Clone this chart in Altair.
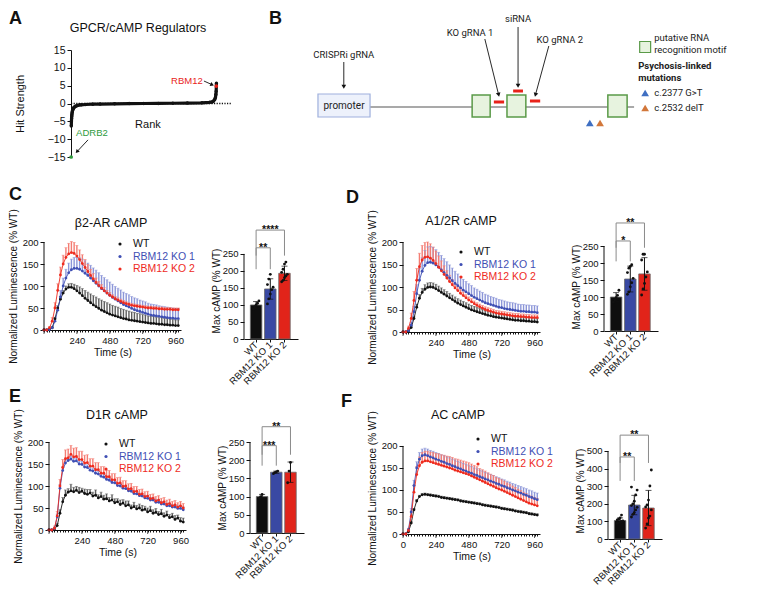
import math
import altair as alt
import pandas as pd

FONT = "Liberation Sans"
DFONT = "Roboto"
INK = "#111111"

GROUPS = ["WT", "RBM12 KO 1", "RBM12 KO 2"]
LINE_COLORS = ["#111111", "#3F4FB4", "#EE2B1E"]
ERR_COLORS = ["#5E5E5E", "#8C96D8", "#F47C72"]
BAR_COLORS = ["#0E0E0E", "#3949A3", "#E1241A"]

# ---------------- Panel A : ranked hit strengths ----------------
A_RANK = [2, 3, 4, 5, 6, 8, 10, 13, 16, 20, 25, 30, 40, 50, 70, 100, 150, 200, 300, 400,
          500, 600, 700, 800, 900, 950, 970, 980, 988, 993, 996, 998, 1000]
A_HIT = [-6.3, -5.0, -4.2, -3.6, -3.1, -2.5, -2.1, -1.7, -1.4, -1.15, -0.95, -0.8, -0.62, -0.5,
         -0.38, -0.28, -0.2, -0.15, -0.08, -0.03, 0.0, 0.03, 0.07, 0.12, 0.2, 0.3, 0.45, 0.7,
         1.1, 1.7, 2.5, 3.4, 5.7]
A_HITS = ["ADRB2", "RBM12"]
A_HIT_RANK = [1, 999]
A_HIT_VALUE = [-15.0, 4.9]
A_HIT_COLORS = ["#2E9B3C", "#E8231B"]

# ---------------- time courses (every 20 s) ----------------
TIME = [0, 20, 40, 60, 80, 100, 120, 140, 160, 180, 200, 220, 240, 260, 280, 300, 320, 340,
        360, 380, 400, 420, 440, 460, 480, 500, 520, 540, 560, 580, 600, 620, 640, 660, 680,
        700, 720, 740, 760, 780, 800, 820, 840, 860, 880, 900, 920, 940, 960, 980]
TIME_LABELS = [0, 240, 480, 720, 960]

C_WT = [0, 0, 1, 5, 25, 50, 70, 84, 93, 97, 97, 94, 89, 84, 78, 72, 67, 62, 57, 53, 49, 45, 42,
        39, 36, 34, 32, 30, 28, 26, 25, 23, 22, 21, 20, 19, 18, 17, 16, 15, 15, 14, 13, 13, 12,
        12, 11, 11, 10, 10]
C_WT_ERR = [0, 0, 1, 2, 4, 5, 6, 6, 7, 8, 9, 10, 12, 14, 16, 18, 19, 20, 21, 22, 22, 23, 23, 23,
            23, 22, 22, 22, 21, 21, 20, 20, 19, 19, 18, 18, 17, 17, 16, 16, 16, 15, 15, 15, 14,
            14, 14, 13, 13, 13]
C_KO1 = [0, 0, 1, 5, 20, 45, 75, 100, 118, 130, 137, 140, 140, 138, 134, 129, 124, 118, 112,
         106, 100, 94, 89, 84, 79, 74, 70, 66, 62, 58, 55, 52, 49, 46, 44, 42, 40, 38, 36, 34,
         33, 32, 31, 30, 29, 28, 27, 27, 26, 26]
C_KO1_ERR = [0, 0, 1, 3, 6, 10, 15, 18, 20, 22, 24, 25, 25, 26, 27, 28, 28, 29, 29, 30, 30, 30,
             30, 30, 30, 30, 29, 29, 29, 28, 28, 28, 27, 27, 27, 26, 26, 26, 25, 25, 25, 25, 24,
             24, 24, 24, 24, 23, 23, 23]
C_KO2 = [0, 0, 5, 20, 50, 90, 125, 150, 165, 173, 176, 174, 168, 160, 151, 142, 133, 124, 116,
         108, 101, 95, 89, 84, 79, 75, 71, 68, 65, 62, 60, 58, 56, 55, 54, 53, 52, 51, 50, 50,
         49, 49, 48, 48, 47, 47, 47, 46, 46, 46]
C_KO2_ERR = [0, 0, 3, 8, 12, 15, 18, 20, 22, 24, 25, 25, 24, 22, 20, 18, 16, 14, 12, 10, 9, 8,
             7, 6, 6, 5, 5, 5, 5, 5, 4, 4, 4, 4, 4, 4, 4, 4, 4, 4, 4, 4, 4, 4, 4, 4, 4, 4, 4, 4]

D_WT = [0, 0, 2, 10, 30, 55, 75, 88, 95, 99, 100, 99, 96, 92, 88, 84, 80, 76, 72, 68, 64, 61,
        58, 55, 52, 49, 47, 45, 43, 41, 39, 37, 36, 34, 33, 32, 31, 30, 29, 28, 27, 26, 26, 25,
        25, 24, 24, 23, 23, 22]
D_WT_ERR = [0, 0, 1, 3, 5, 7, 8, 9, 10, 10, 10, 10, 10, 10, 10, 10, 10, 10, 10, 10, 10, 10, 10,
            10, 10, 10, 10, 10, 9, 9, 9, 9, 9, 9, 9, 9, 9, 9, 9, 9, 8, 8, 8, 8, 8, 8, 8, 8, 8, 8]
D_KO1 = [0, 0, 3, 15, 45, 85, 115, 135, 148, 154, 155, 153, 149, 144, 138, 132, 126, 120, 114,
         108, 103, 98, 93, 89, 85, 81, 77, 74, 71, 68, 65, 63, 61, 59, 57, 55, 54, 52, 51, 50,
         49, 48, 47, 46, 46, 45, 45, 44, 44, 43]
D_KO1_ERR = [0, 0, 2, 6, 12, 20, 26, 30, 33, 35, 35, 35, 34, 33, 32, 31, 30, 29, 28, 27, 26, 25,
             24, 23, 22, 22, 21, 21, 20, 20, 19, 19, 18, 18, 18, 17, 17, 17, 16, 16, 16, 16, 15,
             15, 15, 15, 15, 15, 15, 15]
D_KO2 = [0, 0, 8, 30, 70, 115, 145, 160, 166, 167, 164, 159, 152, 144, 136, 128, 120, 112, 105,
         98, 92, 86, 81, 76, 71, 67, 63, 59, 56, 53, 50, 48, 46, 44, 42, 41, 40, 39, 38, 37, 36,
         35, 35, 34, 34, 33, 33, 32, 32, 32]
D_KO2_ERR = [0, 0, 5, 12, 20, 26, 30, 32, 33, 33, 32, 30, 28, 25, 22, 19, 16, 14, 12, 10, 9, 8,
             8, 7, 7, 7, 6, 6, 6, 6, 6, 6, 6, 6, 6, 6, 6, 6, 6, 6, 6, 6, 6, 6, 6, 6, 6, 6, 6, 6]

E_WT = [0, 0, 2, 10, 38, 64, 79, 86, 89, 87, 90, 85, 88, 83, 81, 84, 77, 79, 73, 76, 70, 71, 66,
        68, 62, 64, 58, 61, 55, 57, 50, 53, 48, 50, 45, 47, 41, 44, 38, 40, 35, 37, 31, 34, 28,
        30, 24, 27, 20, 18]
E_WT_ERR = [0, 0, 2, 5, 8, 10, 12, 8, 15, 10, 9, 12, 7, 10, 11, 8, 9, 12, 7, 10, 9, 11, 8, 12,
            9, 7, 10, 8, 11, 9, 7, 10, 8, 9, 11, 7, 9, 10, 8, 9, 7, 10, 8, 9, 7, 8, 9, 7, 8, 9]
E_KO1 = [0, 0, 3, 30, 95, 135, 152, 158, 161, 156, 157, 150, 149, 143, 142, 136, 134, 129, 127,
         122, 120, 115, 113, 108, 107, 101, 100, 95, 94, 89, 88, 83, 82, 78, 77, 73, 72, 68, 68,
         63, 63, 59, 59, 55, 55, 52, 52, 49, 49, 46]
E_KO1_ERR = [0, 0, 3, 6, 8, 8, 8, 7, 7, 7, 7, 7, 7, 6, 6, 6, 6, 6, 6, 6, 6, 6, 6, 6, 6, 6, 6, 6,
             6, 6, 6, 6, 6, 6, 6, 6, 6, 6, 6, 6, 6, 6, 6, 6, 6, 6, 6, 6, 6, 6]
E_KO2 = [0, 0, 4, 32, 100, 142, 162, 164, 172, 166, 167, 160, 160, 152, 153, 145, 145, 137, 137,
         129, 129, 121, 121, 114, 114, 106, 107, 99, 100, 93, 94, 87, 88, 81, 82, 76, 77, 71, 72,
         66, 68, 62, 64, 58, 60, 55, 57, 52, 55, 50]
E_KO2_ERR = [0, 0, 5, 10, 15, 18, 20, 20, 20, 20, 20, 19, 19, 18, 18, 17, 17, 16, 16, 15, 15, 15,
             14, 14, 14, 13, 13, 13, 12, 12, 12, 12, 11, 11, 11, 11, 11, 10, 10, 10, 10, 10, 10,
             10, 10, 10, 10, 10, 10, 10]

F_WT = [0, 0, 5, 25, 55, 75, 85, 89, 90, 89, 88, 87, 86, 85, 83, 82, 81, 80, 79, 78, 77, 75, 74,
        73, 72, 71, 70, 69, 68, 66, 65, 64, 63, 62, 61, 60, 58, 57, 56, 55, 54, 52, 51, 50, 49,
        48, 46, 45, 44, 43]
F_WT_ERR = [0, 0, 2, 3, 3, 3, 3, 3, 3, 3, 3, 3, 3, 3, 3, 3, 3, 3, 3, 3, 3, 3, 3, 3, 3, 3, 3, 3,
            3, 3, 3, 3, 3, 3, 3, 3, 3, 3, 3, 3, 3, 3, 3, 3, 3, 3, 3, 3, 3, 3]
F_KO1 = [0, 0, 10, 50, 110, 150, 170, 178, 180, 178, 175, 173, 170, 168, 165, 163, 160, 158,
         155, 153, 150, 148, 145, 143, 140, 138, 135, 133, 130, 128, 125, 123, 120, 118, 115,
         113, 110, 108, 105, 103, 100, 98, 95, 93, 90, 88, 85, 83, 80, 78]
F_KO1_ERR = [0, 0, 3, 8, 12, 14, 15, 15, 15, 15, 15, 15, 15, 15, 15, 15, 15, 15, 15, 15, 15, 15,
             15, 15, 15, 15, 15, 15, 15, 15, 15, 15, 15, 15, 15, 15, 15, 15, 15, 15, 15, 15, 15,
             15, 15, 15, 15, 15, 15, 15]
F_KO2 = [0, 0, 8, 40, 95, 135, 155, 163, 166, 166, 164, 162, 160, 158, 156, 154, 152, 150, 148,
         145, 143, 141, 139, 137, 135, 132, 129, 126, 123, 120, 117, 114, 111, 108, 105, 102,
         100, 97, 94, 91, 88, 85, 82, 79, 76, 73, 70, 68, 66, 64]
F_KO2_ERR = [0, 0, 4, 10, 15, 18, 20, 22, 22, 22, 22, 23, 23, 24, 24, 25, 25, 26, 26, 26, 27, 27,
             27, 27, 27, 27, 27, 27, 26, 26, 26, 25, 25, 25, 24, 24, 23, 23, 22, 22, 21, 21, 20,
             20, 19, 19, 18, 18, 17, 17]

# ---------------- max cAMP bars ----------------
C_BAR_MEAN = [100, 147, 193]
C_BAR_SD = [10, 30, 21]
C_PTS = [[88, 95, 100, 105, 112], [103, 118, 132, 145, 152, 160, 176, 190],
         [168, 172, 180, 185, 190, 196, 205, 220, 226]]
C_SIG = [(0, 1, 268, 205, "**"), (0, 2, 320, 245, "****")]

D_BAR_MEAN = [100, 153, 168]
D_BAR_SD = [13, 38, 48]
D_PTS = [[85, 92, 98, 105, 120], [108, 115, 130, 142, 155, 172, 185, 190, 195],
         [106, 124, 140, 159, 174, 209, 226, 226]]
D_SIG = [(0, 1, 265, 205, "*"), (0, 2, 318, 245, "**")]

E_BAR_MEAN = [100, 167, 167]
E_BAR_SD = [6, 3, 28]
E_PTS = [[95, 100, 106], [163, 166, 168, 170], [138, 170, 194]]
E_SIG = [(0, 1, 240, 185, "***"), (0, 2, 292, 215, "**")]

F_BAR_MEAN = [105, 193, 176]
F_BAR_SD = [15, 55, 100]
F_PTS = [[88, 92, 95, 100, 103, 108, 112, 120, 136],
         [125, 140, 150, 165, 180, 190, 200, 215, 250, 278, 295],
         [62, 85, 119, 130, 165, 182, 193, 221, 301, 392]]
F_SIG = [(0, 1, 466, 330, "**"), (0, 2, 590, 432, "**")]

# ---------------- Panel B : gene schematic (diagram units) ----------------
B_PROMOTER = [1.7, 14.4, -10, 13]
B_GENE_LINE = [14.4, 78.8]
B_RRM_X1 = [39.3, 47.8, 72.4]
B_RRM_X2 = [43.7, 52.4, 77.1]
B_RRM_Y = [-10, 12]
B_TARGETS = ["KO gRNA 1", "siRNA", "KO gRNA 2"]
B_TARGET_X1 = [44.6, 49.3, 53.4]
B_TARGET_X2 = [47.1, 51.7, 55.9]
B_TARGET_Y = [5, 16, 6]
B_LABEL_X = [8.0, 38.8, 50.5, 60.7]
B_LABEL_Y = [52, 74, 88, 67]
B_LABELS = ["CRISPRi gRNA"] + B_TARGETS
B_ARROW_X1 = [8.0, 42.4, 50.5, 58.0]
B_ARROW_Y1 = [45, 68, 80, 61]
B_ARROW_X2 = [8.0, 45.9, 50.5, 54.6]
B_ARROW_Y2 = [18, 10, 19, 10]
B_MUTATIONS = ["c.2377 G>T", "c.2532 delT"]
B_MUT_X = [68.0, 70.5]
B_MUT_Y = [-16, -16]
B_MUT_COLORS = ["#3F6FC2", "#D2773A"]
B_LEG_X = [81.5, 83.7, 79.8]
B_LEG_Y_MOTIF = [69, 57]
B_LEG_Y_TITLE = [41, 29]
B_LEG_Y_MUT = [14, -1]


def one_row():
    return pd.DataFrame({"k": [0]})


def text_at(text, x, y, size, color=INK, weight="normal", align="left", baseline="middle", font=FONT):
    return alt.Chart(pd.DataFrame({"txt": [text]})).mark_text(
        font=font, fontSize=size, color=color, fontWeight=weight, align=align, baseline=baseline
    ).encode(x=alt.value(x), y=alt.value(y), text="txt:N")


def spacer(w):
    return alt.Chart(one_row()).mark_point(opacity=0).encode(
        x=alt.value(0), y=alt.value(0)).properties(width=w, height=1)


def arrow_layers(x1s, y1s, x2s, y2s, X, Y, kx, ky, size=22, head=2.3):
    rows = []
    for x1, y1, x2, y2 in zip(x1s, y1s, x2s, y2s):
        dxp, dyp = (x2 - x1) * kx, (y2 - y1) * ky
        ln = math.hypot(dxp, dyp)
        ux, uy = dxp / ln, dyp / ln
        rows.append({"x1": x1, "y1": y1, "hx": x2 - ux * head / kx, "hy": y2 - uy * head / ky,
                     "ang": math.degrees(math.atan2(dxp, dyp)) % 360})
    df = pd.DataFrame(rows)
    rule = alt.Chart(df).mark_rule(color=INK, strokeWidth=0.9).encode(
        x=X("x1:Q"), y=Y("y1:Q"), x2="hx:Q", y2="hy:Q")
    tip = alt.Chart(df).mark_point(shape="triangle-up", filled=True, size=size, color=INK,
                                   opacity=1).encode(
        x=X("hx:Q"), y=Y("hy:Q"), angle=alt.Angle("ang:Q", scale=None))
    return [rule, tip]


# ---------------- Panel A ----------------
def panel_a():
    w, h = 160, 107
    xs = alt.Scale(domain=[0, 1100], nice=False, zero=False)
    ys = alt.Scale(domain=[-15, 15], nice=False, zero=False)
    yax = alt.Axis(values=[-15, -10, -5, 0, 5, 10, 15], title="Hit Strength", titleFontSize=11,
                   titleFontWeight="normal", labelFontSize=10.5, tickSize=4, grid=False,
                   titlePadding=22, labelPadding=2)
    X = lambda f: alt.X(f, scale=xs, axis=None)
    Y = lambda f: alt.Y(f, scale=ys, axis=yax)
    curve_df = pd.DataFrame({"r": A_RANK, "h": A_HIT})
    hits_df = pd.DataFrame({"r": A_HIT_RANK, "h": A_HIT_VALUE, "g": A_HITS, "hc": A_HIT_COLORS,
                            "lr": [144, 797], "lh": [-8.3, 6.3]})
    zero_df = pd.DataFrame({"r1": [0], "r2": [1100], "h": [0]})
    zero = alt.Chart(zero_df).mark_rule(color=INK, strokeWidth=1.3, strokeDash=[1.2, 1.4]).encode(
        x=X("r1:Q"), x2="r2:Q", y=Y("h:Q"))
    line = alt.Chart(curve_df).mark_line(color=INK, strokeWidth=3.2).encode(x=X("r:Q"), y=Y("h:Q"))
    dots = alt.Chart(curve_df).mark_circle(color=INK, size=12, opacity=1).encode(x=X("r:Q"), y=Y("h:Q"))
    hits = alt.Chart(hits_df).mark_circle(size=14, opacity=1).encode(
        x=X("r:Q"), y=Y("h:Q"), color=alt.Color("hc:N", scale=None))
    labs = alt.Chart(hits_df).mark_text(font=FONT, fontSize=9.5).encode(
        x=X("lr:Q"), y=Y("lh:Q"), text="g:N", color=alt.Color("hc:N", scale=None))
    rank = alt.Chart(pd.DataFrame({"r": [529], "h": [-6.0], "t": ["Rank"]})).mark_text(
        font=FONT, fontSize=11, color=INK).encode(x=X("r:Q"), y=Y("h:Q"), text="t:N")
    arrows = arrow_layers([117, 914], [-10.2, 6.3], [30, 985], [-14.0, 5.0], X, Y,
                          w / 1100, h / 30, size=18)
    title = text_at("GPCR/cAMP Regulators", 67, -22, 12.5, align="center")
    letter = text_at("A", -62, -40, 18, weight="bold", baseline="top")
    return alt.layer(zero, line, dots, hits, labs, rank, *arrows, title, letter).properties(
        width=w, height=h)


# ---------------- Panel B ----------------
def panel_b():
    w, h = 410, 107
    xs = alt.Scale(domain=[0, 100], nice=False, zero=False)
    ys = alt.Scale(domain=[-50, 57], nice=False, zero=False)
    X = lambda f: alt.X(f, scale=xs, axis=None)
    Y = lambda f: alt.Y(f, scale=ys, axis=None)
    layers = []
    gl = pd.DataFrame({"x1": [B_GENE_LINE[0]], "x2": [B_GENE_LINE[1]], "y": [0]})
    layers.append(alt.Chart(gl).mark_rule(color="#555555", strokeWidth=1.1).encode(
        x=X("x1:Q"), x2="x2:Q", y=Y("y:Q")))
    pr = pd.DataFrame({"x1": [B_PROMOTER[0]], "x2": [B_PROMOTER[1]], "y1": [B_PROMOTER[2]],
                       "y2": [B_PROMOTER[3]], "t": ["promoter"],
                       "xc": [(B_PROMOTER[0] + B_PROMOTER[1]) / 2],
                       "yc": [(B_PROMOTER[2] + B_PROMOTER[3]) / 2]})
    layers.append(alt.Chart(pr).mark_rect(fill="#EDF1FB", stroke="#9FB0DD", strokeWidth=1.2).encode(
        x=X("x1:Q"), x2="x2:Q", y=Y("y1:Q"), y2="y2:Q"))
    layers.append(alt.Chart(pr).mark_text(font=DFONT, fontSize=10, color="#222222").encode(
        x=X("xc:Q"), y=Y("yc:Q"), text="t:N"))
    rrm = pd.DataFrame({"x1": B_RRM_X1, "x2": B_RRM_X2, "y1": [B_RRM_Y[0]] * 3,
                        "y2": [B_RRM_Y[1]] * 3})
    layers.append(alt.Chart(rrm).mark_rect(fill="#E7F3DF", stroke="#5A9A48", strokeWidth=1.5).encode(
        x=X("x1:Q"), x2="x2:Q", y=Y("y1:Q"), y2="y2:Q"))
    tg = pd.DataFrame({"x1": B_TARGET_X1, "x2": B_TARGET_X2, "y": B_TARGET_Y})
    layers.append(alt.Chart(tg).mark_rule(color="#E8231B", strokeWidth=3).encode(
        x=X("x1:Q"), x2="x2:Q", y=Y("y:Q")))
    lb = pd.DataFrame({"x": B_LABEL_X, "y": B_LABEL_Y, "t": B_LABELS})
    layers.append(alt.Chart(lb).mark_text(font=DFONT, fontSize=9.5, color="#222222").encode(
        x=X("x:Q"), y=Y("y:Q"), text="t:N"))
    layers += arrow_layers(B_ARROW_X1, B_ARROW_Y1, B_ARROW_X2, B_ARROW_Y2, X, Y, w / 100, h / 107)
    mu = pd.DataFrame({"x": B_MUT_X, "y": B_MUT_Y, "m": B_MUTATIONS, "mc": B_MUT_COLORS,
                       "lx": [B_LEG_X[0]] * 2, "tx": [B_LEG_X[1]] * 2, "ly": B_LEG_Y_MUT})
    layers.append(alt.Chart(mu).mark_point(shape="triangle-up", filled=True, size=60, opacity=1).encode(
        x=X("x:Q"), y=Y("y:Q"), color=alt.Color("mc:N", scale=None)))
    sq = pd.DataFrame({"x": [B_LEG_X[0]], "y": [(B_LEG_Y_MOTIF[0] + B_LEG_Y_MOTIF[1]) / 2 - 3]})
    layers.append(alt.Chart(sq).mark_square(size=120, fill="#E7F3DF", stroke="#5A9A48",
                                            strokeWidth=1.2, opacity=1).encode(x=X("x:Q"), y=Y("y:Q")))
    mt = pd.DataFrame({"x": [B_LEG_X[1]] * 2, "y": B_LEG_Y_MOTIF,
                       "t": ["putative RNA", "recognition motif"]})
    layers.append(alt.Chart(mt).mark_text(font=DFONT, fontSize=9.5, color="#222222", align="left").encode(
        x=X("x:Q"), y=Y("y:Q"), text="t:N"))
    tt = pd.DataFrame({"x": [B_LEG_X[2]] * 2, "y": B_LEG_Y_TITLE, "t": ["Psychosis-linked", "mutations"]})
    layers.append(alt.Chart(tt).mark_text(font=DFONT, fontSize=9.5, fontWeight="bold", color="#222222",
                                          align="left").encode(x=X("x:Q"), y=Y("y:Q"), text="t:N"))
    layers.append(alt.Chart(mu).mark_point(shape="triangle-up", filled=True, size=60, opacity=1).encode(
        x=X("lx:Q"), y=Y("ly:Q"), color=alt.Color("mc:N", scale=None)))
    layers.append(alt.Chart(mu).mark_text(font=DFONT, fontSize=9.5, color="#222222", align="left").encode(
        x=X("tx:Q"), y=Y("ly:Q"), text="m:N"))
    layers.append(text_at("B", -42, -40, 18, weight="bold", baseline="top"))
    return alt.layer(*layers).properties(width=w, height=h)


# ---------------- time-course panels ----------------
def line_panel(means, errs, ytop, height, title, title_xy, letter, letter_xy, leg_xy, show_zero):
    rows = []
    for g, lc, ec, m, e in zip(GROUPS, LINE_COLORS, ERR_COLORS, means, errs):
        for t, mv, ev in zip(TIME, m, e):
            rows.append({"t": t, "m": mv, "hi": mv + ev, "g": g, "lc": lc, "ec": ec})
    df = pd.DataFrame(rows)
    cond = "datum.value % 240 === 0" + ("" if show_zero else " && datum.value > 0")
    xax = alt.Axis(values=TIME, labelExpr=cond + " ? datum.label : ''", labelOverlap=False,
                   labelFlush=False, tickSize=2,
                   title="Time (s)", titleFontSize=10.5, titleFontWeight="normal", labelFontSize=9.5,
                   labelPadding=3, titlePadding=3, grid=False)
    yax = alt.Axis(values=[0, 50, 100, 150, 200], title="Normalized Luminescence (% WT)",
                   titleFontSize=10, titleFontWeight="normal", labelFontSize=9.5, tickSize=4,
                   domain=False, grid=False, labelPadding=2, titlePadding=4)
    xs = alt.Scale(domain=[0, 1000], nice=False, zero=False)
    ys = alt.Scale(domain=[0, ytop], nice=False, zero=False)
    X = lambda f: alt.X(f, scale=xs, axis=xax)
    Y = lambda f: alt.Y(f, scale=ys, axis=yax)
    base = alt.Chart(df)
    err = base.mark_rule(strokeWidth=1.4).encode(
        x=X("t:Q"), y=Y("m:Q"), y2="hi:Q", stroke=alt.Stroke("ec:N", scale=None))
    cap = base.mark_tick(orient="horizontal", size=3, thickness=0.8).encode(
        x=X("t:Q"), y=Y("hi:Q"), fill=alt.Fill("ec:N", scale=None))
    line = base.mark_line(strokeWidth=0.9).encode(
        x=X("t:Q"), y=Y("m:Q"), color=alt.Color("lc:N", scale=None), detail="g:N")
    pts = base.mark_circle(size=8, opacity=1).encode(
        x=X("t:Q"), y=Y("m:Q"), color=alt.Color("lc:N", scale=None))
    ax_df = pd.DataFrame({"t": TIME_LABELS, "y0": [0] * len(TIME_LABELS)})
    major = alt.Chart(ax_df).mark_tick(orient="vertical", size=4, thickness=1, color=INK,
                                       yOffset=2).encode(x=X("t:Q"), y=Y("y0:Q"))
    yl_df = pd.DataFrame({"a": [0], "b": [200]})
    yline = alt.Chart(yl_df).mark_rule(color=INK, strokeWidth=1).encode(
        x=alt.value(0), y=Y("a:Q"), y2="b:Q")
    layers = [err, cap, line, pts, major, yline]
    for i, g in enumerate(GROUPS):
        layers.append(alt.Chart(one_row()).mark_circle(size=10, color=LINE_COLORS[i], opacity=1).encode(
            x=alt.value(leg_xy[0]), y=alt.value(leg_xy[1] + 12.5 * i)))
        layers.append(text_at(g, leg_xy[0] + 13, leg_xy[1] + 12.5 * i, 10.5, color=LINE_COLORS[i]))
    layers.append(text_at(title, title_xy[0], title_xy[1], 12.5, align="center"))
    if letter:
        layers.append(text_at(letter, letter_xy[0], letter_xy[1], 18, weight="bold", baseline="top"))
    return alt.layer(*layers).properties(width=137, height=height)


def bar_panel(means, sds, pts, sig, ytop, yticks, height):
    dfb = pd.DataFrame({"i": [0, 1, 2], "g": GROUPS, "m": means, "sd": sds,
                        "z": [0, 0, 0], "bc": BAR_COLORS})
    rows = []
    for gi, vals in enumerate(pts):
        for k, v in enumerate(vals):
            rows.append({"i": gi, "k": k, "v": v})
    dfp = pd.DataFrame(rows)
    dfs = pd.DataFrame(sig, columns=["i1", "i2", "top", "bot", "lab"])
    names = "[" + ",".join("'%s'" % g for g in GROUPS) + "]"
    xax = alt.Axis(values=[0, 1, 2], labelExpr=names + "[datum.value]", labelAngle=-45,
                   labelAlign="right", labelBaseline="middle", labelFontSize=9.5, tickSize=3,
                   labelPadding=1, title=None, grid=False, labelOverlap=False, labelFlush=False)
    yax = alt.Axis(values=yticks, title="Max cAMP (% WT)", titleFontSize=10, titleFontWeight="normal",
                   labelFontSize=9.5, tickSize=4, domain=False, grid=False, labelPadding=2,
                   titlePadding=1)
    xs = alt.Scale(domain=[-0.5, 2.6], nice=False, zero=False)
    ys = alt.Scale(domain=[0, ytop], nice=False, zero=False)
    X = lambda f: alt.X(f, scale=xs, axis=xax)
    Y = lambda f: alt.Y(f, scale=ys, axis=yax)
    bars = alt.Chart(dfb).mark_bar(size=11.5, stroke="#6A6A6A", strokeWidth=0.8).encode(
        x=X("i:Q"), y=Y("m:Q"), y2="z:Q", color=alt.Color("bc:N", scale=None))
    eb = alt.Chart(dfb).transform_calculate(lo="datum.m - datum.sd", hi="datum.m + datum.sd")
    errs = eb.mark_rule(color=INK, strokeWidth=1).encode(x=X("i:Q"), y=Y("lo:Q"), y2="hi:Q")
    cap_hi = eb.mark_tick(orient="horizontal", size=6, thickness=1, color=INK).encode(x=X("i:Q"), y=Y("hi:Q"))
    cap_lo = eb.mark_tick(orient="horizontal", size=6, thickness=1, color=INK).encode(x=X("i:Q"), y=Y("lo:Q"))
    dots = alt.Chart(dfp).transform_calculate(ix="datum.i + ((datum.k % 5) - 2) * 0.1").mark_circle(
        size=8, color=INK, opacity=1).encode(x=X("ix:Q"), y=Y("v:Q"))
    yl_df = pd.DataFrame({"a": [0], "b": [yticks[-1]]})
    yline = alt.Chart(yl_df).mark_rule(color=INK, strokeWidth=1).encode(
        x=alt.value(0), y=Y("a:Q"), y2="b:Q")
    sb = alt.Chart(dfs)
    br = sb.mark_rule(color="#8A8A8A", strokeWidth=1).encode(x=X("i1:Q"), x2="i2:Q", y=Y("top:Q"))
    l1 = sb.mark_rule(color="#8A8A8A", strokeWidth=1).encode(x=X("i1:Q"), y=Y("top:Q"), y2="bot:Q")
    l2 = sb.mark_rule(color="#8A8A8A", strokeWidth=1).encode(x=X("i2:Q"), y=Y("top:Q"), y2="bot:Q")
    st = sb.transform_calculate(c="(datum.i1 + datum.i2) / 2").mark_text(
        font=FONT, fontSize=10.5, fontWeight="bold", color=INK, baseline="alphabetic", dy=3).encode(
        x=X("c:Q"), y=Y("top:Q"), text="lab:N")
    return alt.layer(bars, errs, cap_hi, cap_lo, dots, yline, br, l1, l2, st).properties(
        width=54, height=height)


A = panel_a()
B = panel_b()
C = line_panel([C_WT, C_KO1, C_KO2], [C_WT_ERR, C_KO1_ERR, C_KO2_ERR], 200, 88, "β2-AR cAMP",
               (67, -19), "C", (-35, -56), (76, 2), False)
Cb = bar_panel(C_BAR_MEAN, C_BAR_SD, C_PTS, C_SIG, 285, [0, 50, 100, 150, 200, 250], 97)
D = line_panel([D_WT, D_KO1, D_KO2], [D_WT_ERR, D_KO1_ERR, D_KO2_ERR], 200, 90, "A1/2R cAMP",
               (58, -21), "D", (-57, -53), (58, 10), False)
Db = bar_panel(D_BAR_MEAN, D_BAR_SD, D_PTS, D_SIG, 262, [0, 50, 100, 150, 200, 250], 89)
E = line_panel([E_WT, E_KO1, E_KO2], [E_WT_ERR, E_KO1_ERR, E_KO2_ERR], 200, 88, "D1R cAMP",
               (68, -27), "E", (-40, -54), (57, 2), False)
Eb = bar_panel(E_BAR_MEAN, E_BAR_SD, E_PTS, E_SIG, 250, [0, 50, 100, 150, 200, 250], 91)
F = line_panel([F_WT, F_KO1, F_KO2], [F_WT_ERR, F_KO1_ERR, F_KO2_ERR], 209, 92, "AC cAMP",
               (55, -27), "F", (-62, -49), (75, -3), True)
Fb = bar_panel(F_BAR_MEAN, F_BAR_SD, F_PTS, F_SIG, 551, [0, 100, 200, 300, 400, 500], 97)

row1 = alt.hconcat(spacer(27), A, spacer(80), B, spacing=0, bounds="flush")
row2 = alt.hconcat(C, spacer(63), Cb, spacer(105), D, spacer(64), Db, spacing=0, bounds="flush")
row3 = alt.hconcat(spacer(5), E, spacer(64), Eb, spacer(99), F, spacer(68), Fb, spacing=0,
                   bounds="flush")

chart = alt.vconcat(row1, alt.vconcat(row2, row3, spacing=2), spacing=23).properties(
    padding={"top": 2, "left": 0, "right": 0, "bottom": 0}, background="white"
).configure(font=FONT).configure_view(strokeWidth=0).configure_axis(
    labelColor=INK, titleColor=INK, domainColor=INK, tickColor=INK, labelFont=FONT,
    titleFont=FONT, grid=False
)

chart.save("out.html", embed_options={"renderer": "svg", "actions": False})
